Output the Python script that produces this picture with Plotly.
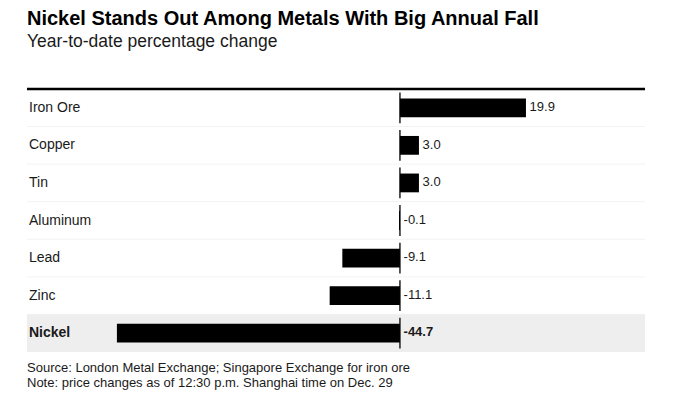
import plotly.graph_objects as go

categories = ["Iron Ore", "Copper", "Tin", "Aluminum", "Lead", "Zinc", "Nickel"]
values = [19.9, 3.0, 3.0, -0.1, -9.1, -11.1, -44.7]
highlight = "Nickel"

title = "Nickel Stands Out Among Metals With Big Annual Fall"
subtitle = "Year-to-date percentage change"
footnotes = [
    "Source: London Metal Exchange; Singapore Exchange for iron ore",
    "Note: price changes as of 12:30 p.m. Shanghai time on Dec. 29",
]

FONT = "Liberation Sans, Arial, sans-serif"

def fmt(c, v):
    s = f"{v:.1f}"
    return f" <b>{s}</b>" if c == highlight else f" {s}"

fig = go.Figure()

fig.add_trace(go.Bar(
    x=values, y=categories, orientation="h", width=0.5,
    marker=dict(color="#000000", line=dict(width=0)),
    hoverinfo="skip", showlegend=False,
))

# zero line segments per row
fig.add_trace(go.Scatter(
    x=[0] * len(categories), y=categories, mode="markers",
    marker=dict(symbol="line-ns", size=22, line=dict(width=1.3, color="#000000")),
    hoverinfo="skip", showlegend=False,
))

# value labels
fig.add_trace(go.Scatter(
    x=[max(v, 0) for v in values], y=categories, mode="text",
    text=[fmt(c, v) for c, v in zip(categories, values)],
    textposition="middle right",
    textfont=dict(family=FONT, size=13, color="#1a1a1a"),
    hoverinfo="skip", showlegend=False,
))

shapes = []
for i, c in enumerate(categories):
    if c == highlight:
        shapes.append(dict(type="rect", xref="paper", yref="y", x0=0, x1=1,
                           y0=i - 0.5, y1=i + 0.5, fillcolor="#eeeeee",
                           line=dict(width=0), layer="below"))
    if i < len(categories) - 1:
        shapes.append(dict(type="line", xref="paper", yref="y", x0=0, x1=1,
                           y0=i + 0.5, y1=i + 0.5,
                           line=dict(color="#f2f2f2", width=1), layer="below"))
shapes.append(dict(type="line", xref="paper", yref="paper", x0=0, x1=1, y0=1, y1=1,
                   line=dict(color="#000000", width=2.5)))

annotations = []
for c in categories:
    annotations.append(dict(
        x=0, xref="paper", y=c, yref="y", xanchor="left", yanchor="middle",
        xshift=0, yshift=1, showarrow=False,
        text=f"<b>{c}</b>" if c == highlight else c,
        font=dict(family=FONT, size=14, color="#1a1a1a"),
    ))
annotations.append(dict(
    x=0, xref="paper", y=1, yref="paper", xanchor="left", yanchor="middle",
    xshift=-2, yshift=71, showarrow=False, text=f"<b>{title}</b>",
    font=dict(family=FONT, size=20, color="#000000"),
))
annotations.append(dict(
    x=0, xref="paper", y=1, yref="paper", xanchor="left", yanchor="middle",
    xshift=-2, yshift=48, showarrow=False, text=subtitle,
    font=dict(family=FONT, size=17.5, color="#1a1a1a"),
))
for k, line in enumerate(footnotes):
    annotations.append(dict(
        x=0, xref="paper", y=0, yref="paper", xanchor="left", yanchor="middle",
        xshift=-2, yshift=-15 - 15 * k, showarrow=False, align="left", text=line,
        font=dict(family=FONT, size=13, color="#1a1a1a"),
    ))

n = len(categories)
# page body has an 8px margin, so the figure is sized/offset to compensate
fig.update_layout(
    width=673, height=385,
    margin=dict(l=19, r=36, t=81, b=41),
    paper_bgcolor="#ffffff", plot_bgcolor="rgba(0,0,0,0)",
    bargap=0.5,
    xaxis=dict(range=[-58.9, 38.7], visible=False, fixedrange=True),
    yaxis=dict(range=[n - 0.5, -0.5], visible=False, fixedrange=True),
    shapes=shapes, annotations=annotations,
    font=dict(family=FONT),
)

fig.write_html("out.html", config={"displayModeBar": False})
